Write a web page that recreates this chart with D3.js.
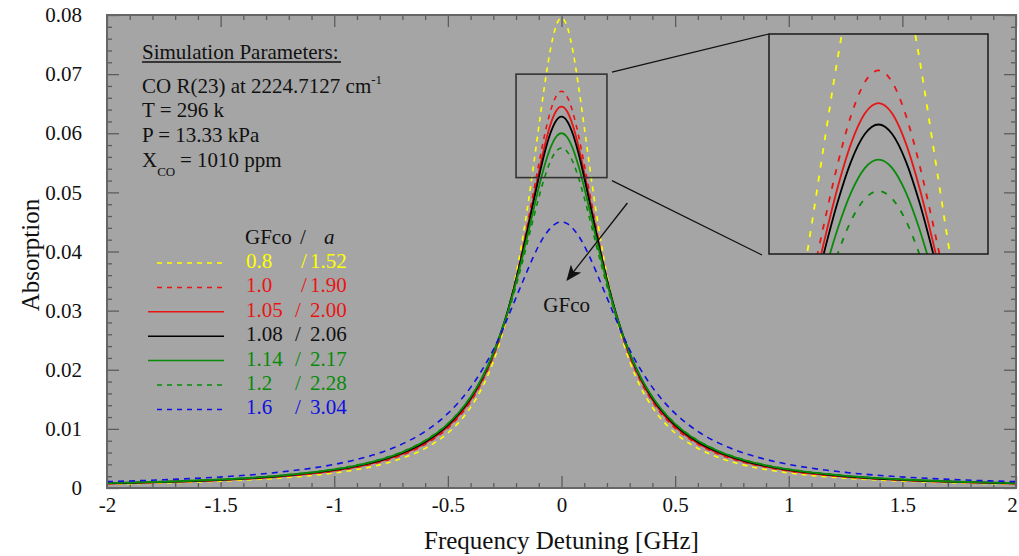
<!DOCTYPE html>
<html>
<head>
<meta charset="utf-8">
<script src="https://cdn.jsdelivr.net/npm/d3@7"></script>
<style>
  body { margin: 0; background: #fff; }
  text { font-family: "Liberation Serif", "Times New Roman", serif; }
</style>
</head>
<body>
<div id="chart"></div>
<script>
// frequency detuning [GHz]
var detuning = [-2, -1.75, -1.5, -1.25, -1, -0.9, -0.8, -0.7, -0.6, -0.5, -0.45, -0.4, -0.35, -0.3, -0.25, -0.2, -0.175, -0.15, -0.125, -0.1, -0.075, -0.05, -0.025,
  0, 0.025, 0.05, 0.075, 0.1, 0.125, 0.15, 0.175, 0.2, 0.25, 0.3, 0.35, 0.4, 0.45, 0.5, 0.6, 0.7, 0.8, 0.9, 1, 1.25, 1.5, 1.75, 2];

// absorption, one array per GFco value
var abs08 = [0.00065, 0.00085, 0.00115, 0.00165, 0.00255, 0.00312, 0.00391, 0.00504, 0.00670, 0.00930, 0.01118, 0.01364, 0.01692, 0.02139, 0.02754, 0.03601, 0.04131, 0.04734, 0.05402, 0.06107, 0.06796, 0.07392, 0.07803,
  0.0795, 0.07803, 0.07392, 0.06796, 0.06107, 0.05402, 0.04734, 0.04131, 0.03601, 0.02754, 0.02139, 0.01692, 0.01364, 0.01118, 0.00930, 0.00670, 0.00504, 0.00391, 0.00312, 0.00255, 0.00165, 0.00115, 0.00085, 0.00065];
var abs10 = [0.00074, 0.00096, 0.00130, 0.00186, 0.00286, 0.00350, 0.00436, 0.00559, 0.00739, 0.01014, 0.01209, 0.01461, 0.01789, 0.02221, 0.02791, 0.03535, 0.03975, 0.04457, 0.04967, 0.05479, 0.05958, 0.06353, 0.06617,
  0.0671, 0.06617, 0.06353, 0.05958, 0.05479, 0.04967, 0.04457, 0.03975, 0.03535, 0.02791, 0.02221, 0.01789, 0.01461, 0.01209, 0.01014, 0.00739, 0.00559, 0.00436, 0.00350, 0.00286, 0.00186, 0.00130, 0.00096, 0.00074];
var abs105 = [0.00076, 0.00100, 0.00135, 0.00192, 0.00295, 0.00361, 0.00450, 0.00575, 0.00758, 0.01038, 0.01235, 0.01488, 0.01815, 0.02242, 0.02801, 0.03517, 0.03937, 0.04390, 0.04865, 0.05337, 0.05773, 0.06130, 0.06367,
  0.0645, 0.06367, 0.06130, 0.05773, 0.05337, 0.04865, 0.04390, 0.03937, 0.03517, 0.02801, 0.02242, 0.01815, 0.01488, 0.01235, 0.01038, 0.00758, 0.00575, 0.00450, 0.00361, 0.00295, 0.00192, 0.00135, 0.00100, 0.00076];
var abs108 = [0.00079, 0.00103, 0.00139, 0.00199, 0.00305, 0.00373, 0.00464, 0.00593, 0.00780, 0.01065, 0.01265, 0.01520, 0.01848, 0.02274, 0.02824, 0.03522, 0.03926, 0.04360, 0.04809, 0.05252, 0.05657, 0.05987, 0.06204,
  0.0628, 0.06204, 0.05987, 0.05657, 0.05252, 0.04809, 0.04360, 0.03926, 0.03522, 0.02824, 0.02274, 0.01848, 0.01520, 0.01265, 0.01065, 0.00780, 0.00593, 0.00464, 0.00373, 0.00305, 0.00199, 0.00139, 0.00103, 0.00079];
var abs114 = [0.00082, 0.00106, 0.00144, 0.00205, 0.00314, 0.00383, 0.00477, 0.00608, 0.00798, 0.01086, 0.01286, 0.01540, 0.01864, 0.02282, 0.02815, 0.03480, 0.03860, 0.04263, 0.04677, 0.05080, 0.05445, 0.05740, 0.05933,
  0.0600, 0.05933, 0.05740, 0.05445, 0.05080, 0.04677, 0.04263, 0.03860, 0.03480, 0.02815, 0.02282, 0.01864, 0.01540, 0.01286, 0.01086, 0.00798, 0.00608, 0.00477, 0.00383, 0.00314, 0.00205, 0.00144, 0.00106, 0.00082];
var abs12 = [0.00083, 0.00108, 0.00146, 0.00208, 0.00318, 0.00388, 0.00482, 0.00614, 0.00805, 0.01091, 0.01290, 0.01541, 0.01860, 0.02267, 0.02782, 0.03417, 0.03776, 0.04154, 0.04539, 0.04911, 0.05246, 0.05515, 0.05689,
  0.0575, 0.05689, 0.05515, 0.05246, 0.04911, 0.04539, 0.04154, 0.03776, 0.03417, 0.02782, 0.02267, 0.01860, 0.01541, 0.01290, 0.01091, 0.00805, 0.00614, 0.00482, 0.00388, 0.00318, 0.00208, 0.00146, 0.00108, 0.00083];
var abs16 = [0.00107, 0.00139, 0.00187, 0.00264, 0.00399, 0.00483, 0.00594, 0.00746, 0.00958, 0.01261, 0.01461, 0.01702, 0.01993, 0.02338, 0.02760, 0.03220, 0.03450, 0.03680, 0.03900, 0.04100, 0.04265, 0.04390, 0.04472,
  0.0450, 0.04472, 0.04390, 0.04265, 0.04100, 0.03900, 0.03680, 0.03450, 0.03220, 0.02760, 0.02338, 0.01993, 0.01702, 0.01461, 0.01261, 0.00958, 0.00746, 0.00594, 0.00483, 0.00399, 0.00264, 0.00187, 0.00139, 0.00107];

// legend labels
var gfcoLabels = ["0.8", "1.0", "1.05", "1.08", "1.14", "1.2", "1.6"];
var aLabels = ["1.52", "1.90", "2.00", "2.06", "2.17", "2.28", "3.04"];

// tick labels
var xTickValues = [-2, -1.5, -1, -0.5, 0, 0.5, 1, 1.5, 2];
var xTickLabels = ["-2", "-1.5", "-1", "-0.5", "0", "0.5", "1", "1.5", "2"];
var yTickValues = [0, 0.01, 0.02, 0.03, 0.04, 0.05, 0.06, 0.07, 0.08];
var yTickLabels = ["0", "0.01", "0.02", "0.03", "0.04", "0.05", "0.06", "0.07", "0.08"];

var series = [
  {label: 0, values: abs08, color: "#ffff00", dash: "5,5"},
  {label: 1, values: abs10, color: "#e81515", dash: "5,5"},
  {label: 2, values: abs105, color: "#e81515", dash: null},
  {label: 3, values: abs108, color: "#000000", dash: null},
  {label: 4, values: abs114, color: "#0a8a0a", dash: null},
  {label: 5, values: abs12, color: "#0a8a0a", dash: "5,5"},
  {label: 6, values: abs16, color: "#1010e0", dash: "6,5"}
];
var textColors = ["#ffff00", "#e81515", "#e81515", "#111111", "#0a8a0a", "#0a8a0a", "#1010e0"];

var width = 1019, height = 556;
var plotLeft = 107, plotRight = 1016, plotTop = 15, plotBottom = 488;

var x = d3.scaleLinear().domain([-2, 2]).range([plotLeft, plotRight]);
var y = d3.scaleLinear().domain([0, 0.08]).range([plotBottom, plotTop]);

var svg = d3.select("#chart").append("svg")
  .attr("width", width)
  .attr("height", height);

svg.append("rect")
  .attr("x", plotLeft).attr("y", plotTop)
  .attr("width", plotRight - plotLeft).attr("height", plotBottom - plotTop)
  .attr("fill", "#a5a5a5");

var defs = svg.append("defs");
defs.append("clipPath").attr("id", "clipMain")
  .append("rect").attr("x", plotLeft).attr("y", plotTop).attr("width", plotRight - plotLeft).attr("height", plotBottom - plotTop);

// ticks (inward, all four sides)
function styleAxis(g) {
  g.select(".domain").remove();
  g.selectAll(".tick line").attr("stroke", "#5c5c5c").attr("stroke-width", 1.3);
  g.selectAll(".tick text").attr("font-family", "Liberation Serif, serif").attr("font-size", 21).attr("fill", "#111");
}
var xMinor = d3.range(-20, 21).filter(function(i){ return i % 5 !== 0; }).map(function(i){ return i / 10; });
var yMinor = d3.range(0, 41).filter(function(i){ return i % 5 !== 0; }).map(function(i){ return i / 500; });

var xAxisG = svg.append("g").attr("transform", "translate(0," + plotBottom + ")")
  .call(d3.axisBottom(x).tickValues(xTickValues).tickSize(-12).tickPadding(9)
    .tickFormat(function(d, i){ return xTickLabels[i]; }))
  .call(styleAxis);
// last label sits at the window edge, nudge it in
xAxisG.selectAll(".tick text").filter(function(d){ return d === 2; }).attr("dx", -4);

svg.append("g").attr("transform", "translate(0," + plotBottom + ")")
  .call(d3.axisBottom(x).tickValues(xMinor).tickSize(-5).tickFormat(""))
  .call(styleAxis);
svg.append("g").attr("transform", "translate(0," + plotTop + ")")
  .call(d3.axisTop(x).tickValues(xTickValues).tickSize(-12).tickFormat(""))
  .call(styleAxis);
svg.append("g").attr("transform", "translate(0," + plotTop + ")")
  .call(d3.axisTop(x).tickValues(xMinor).tickSize(-5).tickFormat(""))
  .call(styleAxis);

svg.append("g").attr("transform", "translate(" + plotLeft + ",0)")
  .call(d3.axisLeft(y).tickValues(yTickValues).tickSize(-12).tickPadding(25)
    .tickFormat(function(d, i){ return yTickLabels[i]; }))
  .call(styleAxis);
svg.append("g").attr("transform", "translate(" + plotLeft + ",0)")
  .call(d3.axisLeft(y).tickValues(yMinor).tickSize(-5).tickFormat(""))
  .call(styleAxis);
svg.append("g").attr("transform", "translate(" + plotRight + ",0)")
  .call(d3.axisRight(y).tickValues(yTickValues).tickSize(-12).tickFormat(""))
  .call(styleAxis);
svg.append("g").attr("transform", "translate(" + plotRight + ",0)")
  .call(d3.axisRight(y).tickValues(yMinor).tickSize(-5).tickFormat(""))
  .call(styleAxis);

// curves
var line = d3.line()
  .x(function(d){ return x(d[0]); })
  .y(function(d){ return y(d[1]); })
  .curve(d3.curveMonotoneX);

var curves = svg.append("g").attr("clip-path", "url(#clipMain)");
series.forEach(function(s) {
  curves.append("path")
    .datum(detuning.map(function(f, i){ return [f, s.values[i]]; }))
    .attr("d", line)
    .attr("fill", "none")
    .attr("stroke", s.color)
    .attr("stroke-width", s.dash ? 1.6 : 1.8)
    .attr("stroke-dasharray", s.dash);
});

// frame
svg.append("rect")
  .attr("x", plotLeft).attr("y", plotTop)
  .attr("width", plotRight - plotLeft).attr("height", plotBottom - plotTop)
  .attr("fill", "none").attr("stroke", "#666").attr("stroke-width", 2);

// zoom box + inset
var zoomX = [-0.2, 0.2], zoomY = [0.0525, 0.070];
svg.append("rect")
  .attr("x", x(zoomX[0])).attr("y", y(zoomY[1]))
  .attr("width", x(zoomX[1]) - x(zoomX[0])).attr("height", y(zoomY[0]) - y(zoomY[1]))
  .attr("fill", "none").attr("stroke", "#333").attr("stroke-width", 1.6);

var ix = d3.scaleLinear().domain(zoomX).range([769, 988]);
var iy = d3.scaleLinear().domain(zoomY).range([254, 34]);

svg.append("line")
  .attr("x1", x(zoomX[1]) + 5).attr("y1", y(zoomY[1]) - 2)
  .attr("x2", ix(zoomX[0])).attr("y2", iy(zoomY[1]))
  .attr("stroke", "#111").attr("stroke-width", 1.2);
svg.append("line")
  .attr("x1", x(zoomX[1]) + 5).attr("y1", y(zoomY[0]) + 3)
  .attr("x2", ix(zoomX[0]) - 7).attr("y2", iy(zoomY[0]) + 1)
  .attr("stroke", "#111").attr("stroke-width", 1.2);

defs.append("clipPath").attr("id", "clipInset")
  .append("rect").attr("x", 769).attr("y", 34).attr("width", 219).attr("height", 220);

svg.append("rect").attr("x", 769).attr("y", 34).attr("width", 219).attr("height", 220)
  .attr("fill", "#a5a5a5");

var insetLine = d3.line()
  .x(function(d){ return ix(d[0]); })
  .y(function(d){ return iy(d[1]); })
  .curve(d3.curveMonotoneX);

var insetG = svg.append("g").attr("clip-path", "url(#clipInset)");
series.forEach(function(s) {
  if (s.label === 6) return;
  insetG.append("path")
    .datum(detuning.map(function(f, i){ return [f, s.values[i]]; }).filter(function(d){ return Math.abs(d[0]) <= 0.3; }))
    .attr("d", insetLine)
    .attr("fill", "none")
    .attr("stroke", s.color)
    .attr("stroke-width", 1.8)
    .attr("stroke-dasharray", s.dash ? "6,8" : null);
});
svg.append("rect").attr("x", 769).attr("y", 34).attr("width", 219).attr("height", 220)
  .attr("fill", "none").attr("stroke", "#222").attr("stroke-width", 1.6);

// arrow
defs.append("marker").attr("id", "arrowHead")
  .attr("viewBox", "0 0 12 10").attr("refX", 11).attr("refY", 5)
  .attr("markerWidth", 16).attr("markerHeight", 13).attr("markerUnits", "userSpaceOnUse")
  .attr("orient", "auto")
  .append("path").attr("d", "M0,0 L12,5 L0,10 L3,5 Z").attr("fill", "#111");
svg.append("line")
  .attr("x1", x(0.29)).attr("y1", y(0.0482))
  .attr("x2", x(0.025)).attr("y2", y(0.0352))
  .attr("stroke", "#111").attr("stroke-width", 1.3)
  .attr("marker-end", "url(#arrowHead)");
svg.append("text").attr("x", x(-0.08)).attr("y", y(0.0298))
  .attr("font-size", 21).attr("fill", "#111").text("GFco");

// parameters block
var params = svg.append("g").attr("font-size", 21).attr("fill", "#111");
params.append("text").attr("x", 142).attr("y", 59).text("Simulation Parameters:");
params.append("line").attr("x1", 142).attr("x2", 341).attr("y1", 62).attr("y2", 62)
  .attr("stroke", "#111").attr("stroke-width", 1.5);
var t1 = params.append("text").attr("x", 142).attr("y", 93);
t1.append("tspan").text("CO R(23) at 2224.7127 cm");
t1.append("tspan").attr("font-size", 13).attr("dy", -9).text("-1");
params.append("text").attr("x", 142).attr("y", 117).text("T = 296 k");
params.append("text").attr("x", 142).attr("y", 142).text("P = 13.33 kPa");
var t4 = params.append("text").attr("x", 142).attr("y", 167);
t4.append("tspan").text("X");
t4.append("tspan").attr("font-size", 13).attr("dy", 9).text("CO");
t4.append("tspan").attr("dy", -9).attr("x", 180).text("= 1010 ppm");

// legend
var legend = svg.append("g").attr("font-size", 21);
legend.append("text").attr("x", 245).attr("y", 244).attr("fill", "#111").text("GFco");
legend.append("text").attr("x", 300).attr("y", 244).attr("fill", "#111").text("/");
legend.append("text").attr("x", 324).attr("y", 244).attr("fill", "#111").attr("font-style", "italic").text("a");
var slashX = [301, 301, 295, 295, 295, 295, 295];
series.forEach(function(s, i) {
  var by = 268 + i * 24.4;
  legend.append("line")
    .attr("x1", s.dash ? 157 : 148).attr("x2", 224)
    .attr("y1", by - 5).attr("y2", by - 5)
    .attr("stroke", s.color).attr("stroke-width", 1.5)
    .attr("stroke-dasharray", s.dash ? "5,5" : null);
  legend.append("text").attr("x", 246).attr("y", by).attr("fill", textColors[i]).text(gfcoLabels[i]);
  legend.append("text").attr("x", slashX[i]).attr("y", by).attr("fill", textColors[i]).text("/");
  legend.append("text").attr("x", 310).attr("y", by).attr("fill", textColors[i]).text(aLabels[i]);
});

// axis titles
svg.append("text").attr("x", (plotLeft + plotRight) / 2).attr("y", 549)
  .attr("text-anchor", "middle").attr("font-size", 25).attr("fill", "#111")
  .text("Frequency Detuning [GHz]");
svg.append("text")
  .attr("transform", "translate(39," + 255 + ") rotate(-90)")
  .attr("text-anchor", "middle").attr("font-size", 25).attr("fill", "#111")
  .text("Absorption");
</script>
</body>
</html>
